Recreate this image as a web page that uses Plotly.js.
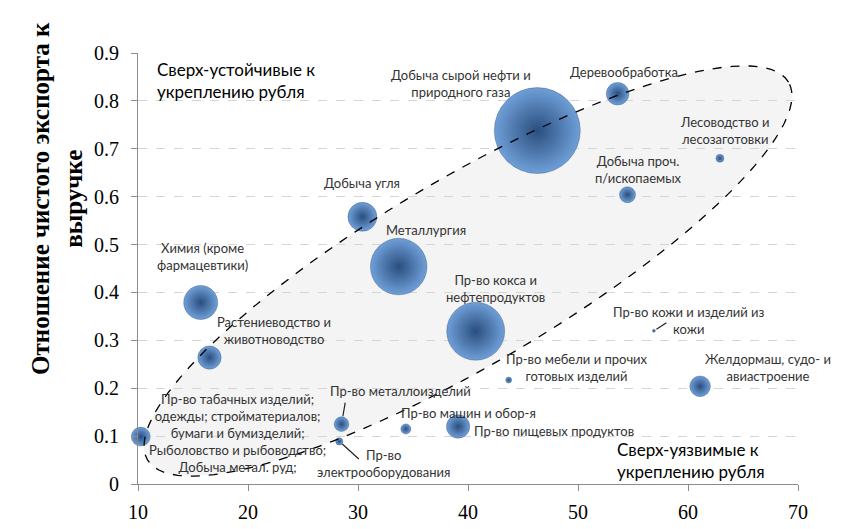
<!DOCTYPE html>
<html>
<head>
<meta charset="utf-8">
<script src="https://cdn.plot.ly/plotly-3.0.1.min.js"></script>
<style>html,body{margin:0;padding:0;background:#fff;}#chart{width:852px;height:529px;}</style>
</head>
<body>
<div id="chart"></div>
<script>
// ---- data ----
const sectors = [
  "Добыча сырой нефти и<br>природного газа",
  "Деревообработка",
  "Лесоводство и<br>лесозаготовки",
  "Добыча проч.<br>п/ископаемых",
  "Добыча угля",
  "Металлургия",
  "Химия (кроме<br>фармацевтики)",
  "Растениеводство и<br>животноводство",
  "Пр-во кокса и<br>нефтепродуктов",
  "Пр-во табачных изделий;<br>одежды; стройматериалов;<br>бумаги и бумизделий;<br>Рыболовство и рыбоводство;<br>Добыча метал. руд;",
  "Пр-во металлоизделий",
  "Пр-во<br>электрооборудования",
  "Пр-во машин и обор-я",
  "Пр-во пищевых продуктов",
  "Пр-во мебели и прочих<br>готовых изделий",
  "Пр-во кожи и изделий из<br>кожи",
  "Желдормаш, судо- и<br>авиастроение"
];
const xValues = [46.3, 53.6, 62.9, 54.5, 30.4, 33.7, 15.7, 16.5, 40.7, 10.25, 28.5, 28.3, 34.35, 39.1, 43.7, 56.9, 61.1];
const yValues = [0.738, 0.815, 0.68, 0.604, 0.558, 0.454, 0.379, 0.264, 0.319, 0.099, 0.125, 0.089, 0.115, 0.12, 0.217, 0.32, 0.204];
const weight  = [1849, 128, 16, 64, 210, 800, 289, 136, 841, 90, 54, 13, 25, 136, 9, 2, 107];
const xTicks = [10, 20, 30, 40, 50, 60, 70];
const yTicks = [0, 0.1, 0.2, 0.3, 0.4, 0.5, 0.6, 0.7, 0.8, 0.9];

// ---- label placement (pixel offsets from bubble centre) ----
const labelOffsets = [
  [-76, 47], [6, 22], [5, 28], [11, 25], [0, 34], [27, 37], [2, 46], [64, 27], [20, 43],
  [97, 4], [59, 33], [44, -22], [63, 16], [96, -4], [68, 13], [35, 10], [68, 19]
];
// leader lines: index -> [ax, ay, standoff]
const leaders = {10: [4, -23, 8], 11: [21, 19, 4], 15: [14, -9, 3]};

// ---- geometry ----
const L = 138, R = 54, T = 53, B = 45, W = 852, H = 529;
const pw = W - L - R, ph = H - T - B;
const px2x = p => 10 + (p - L) / pw * 60;
const py2y = p => (H - B - p) / ph * 0.9;

// ellipse (pixel-space parameters)
const ecx = 468, ecy = 271, ea = 372, eb = 93, eth = 30.5 * Math.PI / 180;
let path = '';
for (let i = 0; i <= 120; i++) {
  const t = i / 120 * 2 * Math.PI;
  const px = ecx + ea * Math.cos(t) * Math.cos(eth) - eb * Math.sin(t) * Math.sin(eth);
  const py = ecy - (ea * Math.cos(t) * Math.sin(eth) + eb * Math.sin(t) * Math.cos(eth));
  path += (i === 0 ? 'M' : 'L') + px2x(px).toFixed(4) + ',' + py2y(py).toFixed(5);
}
path += 'Z';

const labelFont = {family: 'Lato, "Open Sans", sans-serif', size: 13, color: '#333333'};
const annotations = [];
sectors.forEach((s, i) => {
  annotations.push({
    x: xValues[i], y: yValues[i], xref: 'x', yref: 'y', text: s, showarrow: false,
    xshift: labelOffsets[i][0], yshift: labelOffsets[i][1], font: labelFont, align: 'center'
  });
  if (leaders[i]) {
    annotations.push({
      x: xValues[i], y: yValues[i], xref: 'x', yref: 'y', text: '', showarrow: true,
      arrowhead: 0, arrowwidth: 1.2, arrowcolor: '#222', ax: leaders[i][0], ay: leaders[i][1],
      standoff: leaders[i][2]
    });
  }
});
annotations.push({
  xref: 'paper', yref: 'paper', x: 0.026, y: 0.937, xanchor: 'left', yanchor: 'middle',
  text: 'Сверх-устойчивые к<br>укреплению рубля', showarrow: false, align: 'left',
  font: {family: 'Lato, "Open Sans", sans-serif', size: 17, color: '#000'}
});
annotations.push({
  xref: 'paper', yref: 'paper', x: 0.723, y: 0.0545, xanchor: 'left', yanchor: 'middle',
  text: 'Сверх-уязвимые к<br>укреплению рубля', showarrow: false, align: 'left',
  font: {family: 'Lato, "Open Sans", sans-serif', size: 17, color: '#000'}
});
annotations.push({
  xref: 'paper', yref: 'paper', x: (57 - L) / pw, y: (H - B - 199) / ph, xanchor: 'center', yanchor: 'middle',
  text: '<b>Отношение чистого экспорта к<br>выручке</b>', showarrow: false, textangle: -90, align: 'center',
  font: {family: '"Liberation Serif", "DejaVu Serif", serif', size: 25, color: '#000'}
});

const trace = {
  type: 'scatter', mode: 'markers', x: xValues, y: yValues, cliponaxis: false,
  hoverinfo: 'skip',
  marker: {
    size: weight, sizemode: 'area', sizeref: 0.5, sizemin: 1.5, opacity: 1,
    color: '#6f9fd8',
    gradient: {type: 'radial', color: '#2a4e7e'},
    line: {width: 0.5, color: 'rgba(40,70,110,0.7)'}
  }
};

const layout = {
  width: W, height: H,
  margin: {l: L, r: R, t: T, b: B, pad: 0},
  paper_bgcolor: '#ffffff', plot_bgcolor: '#ffffff',
  showlegend: false,
  xaxis: {
    range: [10, 70], tickvals: xTicks, ticktext: xTicks.map(String),
    showgrid: false, zeroline: false, showline: true, linecolor: '#8c8c8c', linewidth: 1,
    ticks: 'outside', ticklen: 6, tickcolor: '#8c8c8c',
    tickfont: {family: '"Liberation Serif", serif', size: 20, color: '#000'},
    ticklabelstandoff: 4
  },
  yaxis: {
    range: [0, 0.9], tickvals: yTicks, ticktext: yTicks.map(v => v === 0 ? '0' : v.toFixed(1)),
    showgrid: true, gridcolor: '#d6d6d6', griddash: 'dash', gridwidth: 1,
    zeroline: false, showline: true, linecolor: '#8c8c8c', linewidth: 1,
    ticks: 'outside', ticklen: 6, tickcolor: '#8c8c8c',
    tickfont: {family: '"Liberation Serif", serif', size: 20, color: '#000'},
    ticklabelstandoff: 8
  },
  shapes: [{
    type: 'path', path: path, xref: 'x', yref: 'y', layer: 'below',
    fillcolor: '#f4f4f4', line: {width: 0}
  }, {
    type: 'path', path: path, xref: 'x', yref: 'y', layer: 'above',
    fillcolor: 'rgba(0,0,0,0)', line: {color: '#000', width: 1.3, dash: 'dash'}
  }],
  annotations: annotations
};

Plotly.newPlot('chart', [trace], layout, {staticPlot: true, displayModeBar: false});
</script>
</body>
</html>
